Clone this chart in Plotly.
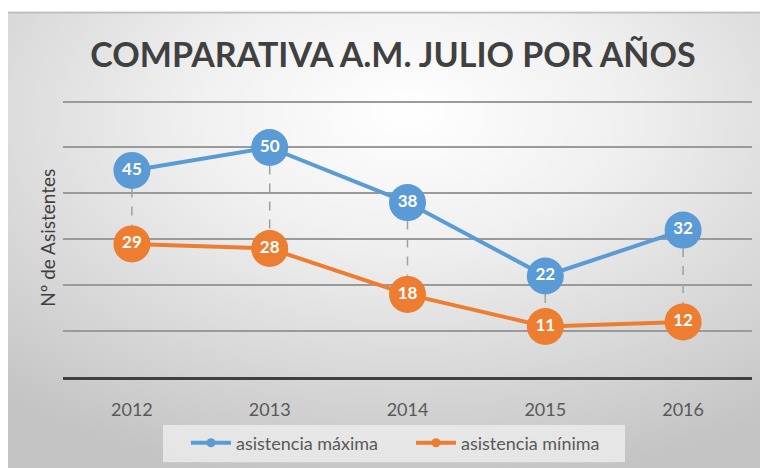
import base64
import plotly.graph_objects as go

years = ["2012", "2013", "2014", "2015", "2016"]
asistencia_maxima = [45, 50, 38, 22, 32]
asistencia_minima = [29, 28, 18, 11, 12]
series_names = ["asistencia máxima", "asistencia mínima"]
title_text = "COMPARATIVA A.M. JULIO POR AÑOS"
y_title = "Nº de Asistentes"

BLUE = "#5B9BD5"
ORANGE = "#ED7D31"
W, H = 768, 468
OFF = 8  # page body margin offset
YMAX = 61
SCALE = 275 / 60.0
PLOT_TOP = 102 - OFF - (YMAX - 60) * SCALE
PLOT_BOT = 377 - OFF
L = 63 - OFF
R = W - (752 - OFF)
T = PLOT_TOP
B = H - PLOT_BOT
PW, PH = W - L - R, H - T - B

def px_x(px):
    return (px - OFF - L) / PW

def px_y(py):
    return (PLOT_BOT - (py - OFF)) / PH

svg = (
    '<svg xmlns="http://www.w3.org/2000/svg" width="768" height="464" viewBox="0 0 768 464" preserveAspectRatio="none">'
    '<defs><radialGradient id="g" cx="0.52" cy="0.22" r="0.8" fx="0.52" fy="0.22">'
    '<stop offset="0" stop-color="#ffffff"/><stop offset="0.35" stop-color="#f0f0f0"/>'
    '<stop offset="1" stop-color="#c4c4c4"/></radialGradient></defs>'
    '<rect x="0" y="0" width="768" height="464" fill="url(#g)"/>'
    '<rect x="0" y="0" width="768" height="2" fill="#bdbdbd"/>'
    '</svg>'
)
svg_uri = "data:image/svg+xml;base64," + base64.b64encode(svg.encode()).decode()

fig = go.Figure()

# drop lines
dx, dy = [], []
for yr, hi, lo in zip(years, asistencia_maxima, asistencia_minima):
    dx += [yr, yr, None]
    dy += [hi, lo, None]
fig.add_trace(go.Scatter(x=dx, y=dy, mode="lines", showlegend=False, hoverinfo="skip",
                         line=dict(color="#a0a0a0", width=1.5, dash="dash")))

for name, vals, col in [(series_names[0], asistencia_maxima, BLUE), (series_names[1], asistencia_minima, ORANGE)]:
    fig.add_trace(go.Scatter(
        x=years, y=vals, mode="lines+markers+text", name=name, showlegend=False,
        text=[str(v) for v in vals], textposition="middle center",
        textfont=dict(family="Lato", size=17, color="white", weight="bold"),
        line=dict(color=col, width=4),
        marker=dict(color=col, size=37),
    ))

for name, col in [(series_names[0], BLUE), (series_names[1], ORANGE)]:
    fig.add_trace(go.Scatter(x=[None], y=[None], mode="lines+markers", name=name,
                             line=dict(color=col, width=4), marker=dict(color=col, size=9)))

fig.update_layout(
    width=W, height=H,
    margin=dict(l=L, r=R, t=T, b=B, autoexpand=False),
    paper_bgcolor="white", plot_bgcolor="rgba(0,0,0,0)",
    font=dict(family="Lato", color="#595959"),
    title=dict(text=title_text, x=(393 - OFF) / W, y=1 - (55 - OFF) / H, xanchor="center", yanchor="middle",
               font=dict(family="Lato", size=34, color="#404040", weight="bold")),
    showlegend=True,
    legend=dict(orientation="h", x=px_x(186), y=px_y(443), xanchor="left", yanchor="middle",
                bgcolor="rgba(0,0,0,0)", font=dict(size=18, color="#595959"),
                entrywidth=170, entrywidthmode="pixels", itemwidth=40),
    xaxis=dict(type="category", range=[-0.5, 4.5], showgrid=False, showline=True, linecolor="#404040",
               linewidth=3, ticks="outside", ticklen=14, tickcolor="rgba(0,0,0,0)",
               tickfont=dict(size=18, color="#595959"), fixedrange=True),
    yaxis=dict(range=[0, YMAX], tickmode="array", tickvals=[0, 10, 20, 30, 40, 50, 60], showgrid=True,
               gridcolor="#9a9a9a", gridwidth=1.5,
               showticklabels=False, zeroline=False, showline=False, fixedrange=True),
    images=[dict(source=svg_uri, xref="paper", yref="paper", x=px_x(8), y=px_y(12),
                 sizex=768 / PW, sizey=464 / PH, sizing="stretch", xanchor="left", yanchor="top",
                 layer="below")],
    shapes=[dict(type="rect", xref="paper", yref="paper", x0=px_x(163), x1=px_x(625),
                 y0=px_y(425), y1=px_y(462), fillcolor="rgba(235,235,235,0.85)",
                 line=dict(width=0), layer="below")],
    annotations=[dict(text=y_title, xref="paper", yref="paper", x=px_x(48), y=px_y(238),
                      textangle=-90, showarrow=False, xanchor="center", yanchor="middle",
                      font=dict(size=19, color="#404040"))],
)

fig.write_html("out.html")
